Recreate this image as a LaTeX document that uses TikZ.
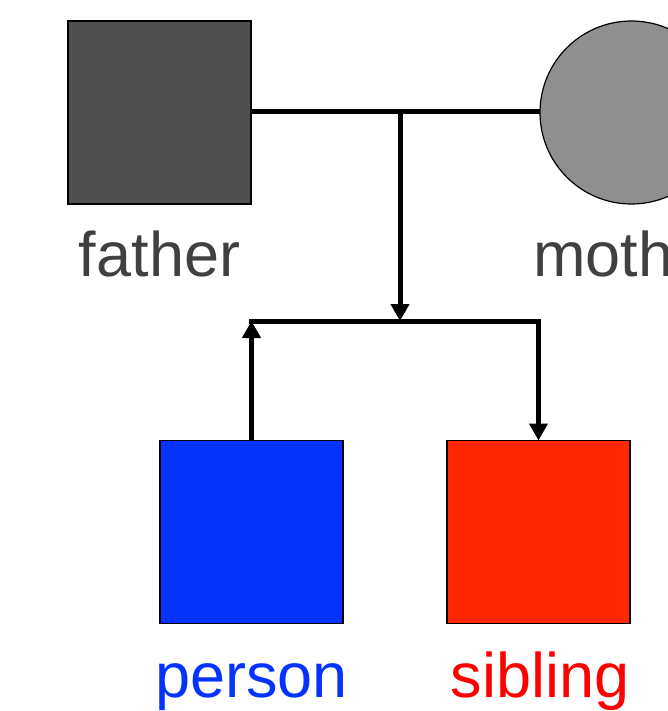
\documentclass[tikz,border=0pt]{standalone}
\usepackage{fontspec}
\setmainfont{Liberation Sans}
\usetikzlibrary{arrows.meta}
\definecolor{fathergray}{HTML}{505050}
\definecolor{mothergray}{HTML}{8F8F8F}
\definecolor{labelgray}{HTML}{404040}
\definecolor{personblue}{HTML}{0433FF}
\definecolor{siblingred}{HTML}{FF2600}
\definecolor{textred}{HTML}{FF0000}
\begin{document}
\begin{tikzpicture}[x=1pt,y=-1pt,
  sqbox/.style={draw=black,line width=1.2pt,minimum size=183pt,inner sep=0pt,outer sep=0pt},
  circbox/.style={draw=black,line width=1.2pt,circle,minimum size=183pt,inner sep=0pt,outer sep=0pt},
  lbl/.style={font=\fontsize{63}{75}\selectfont,anchor=base,inner sep=0pt},
  link/.style={line width=5pt},
  arr/.style={link,-{Triangle[width=18pt,length=17pt]}}]
\useasboundingbox (0,0) rectangle (668,711);
\begin{scope}
\clip (0,0) rectangle (668,711);
\node[sqbox,fill=fathergray] (father) at (159.5,112.5) {};
\node[circbox,fill=mothergray] (mother) at (631.5,112.5) {};
\node[sqbox,fill=personblue] (person) at (251.5,532) {};
\node[sqbox,fill=siblingred] (sibling) at (538.5,532) {};
\node[lbl,text=labelgray] (flab) at (159.5,276) {father};
\node[lbl,text=labelgray] (mlab) at (631.5,276) {mother};
\node[lbl,text=personblue] (plab) at (251.5,697) {person};
\node[lbl,text=textred] (slab) at (540,697) {sibling};
\coordinate (mid) at (400,112);
\coordinate (bar) at (400,321);
\coordinate (barL) at (251.5,321);
\coordinate (barR) at (538.5,321);
\draw[link] (father.east |- mid) -- (mother.west |- mid);
\draw[arr] (mid) -- (bar);
\draw[link,line cap=rect] (barL) -- (barR);
\draw[arr] (person.north) -- (barL);
\draw[arr] (barR) -- (sibling.north);
\end{scope}
\end{tikzpicture}
\end{document}
